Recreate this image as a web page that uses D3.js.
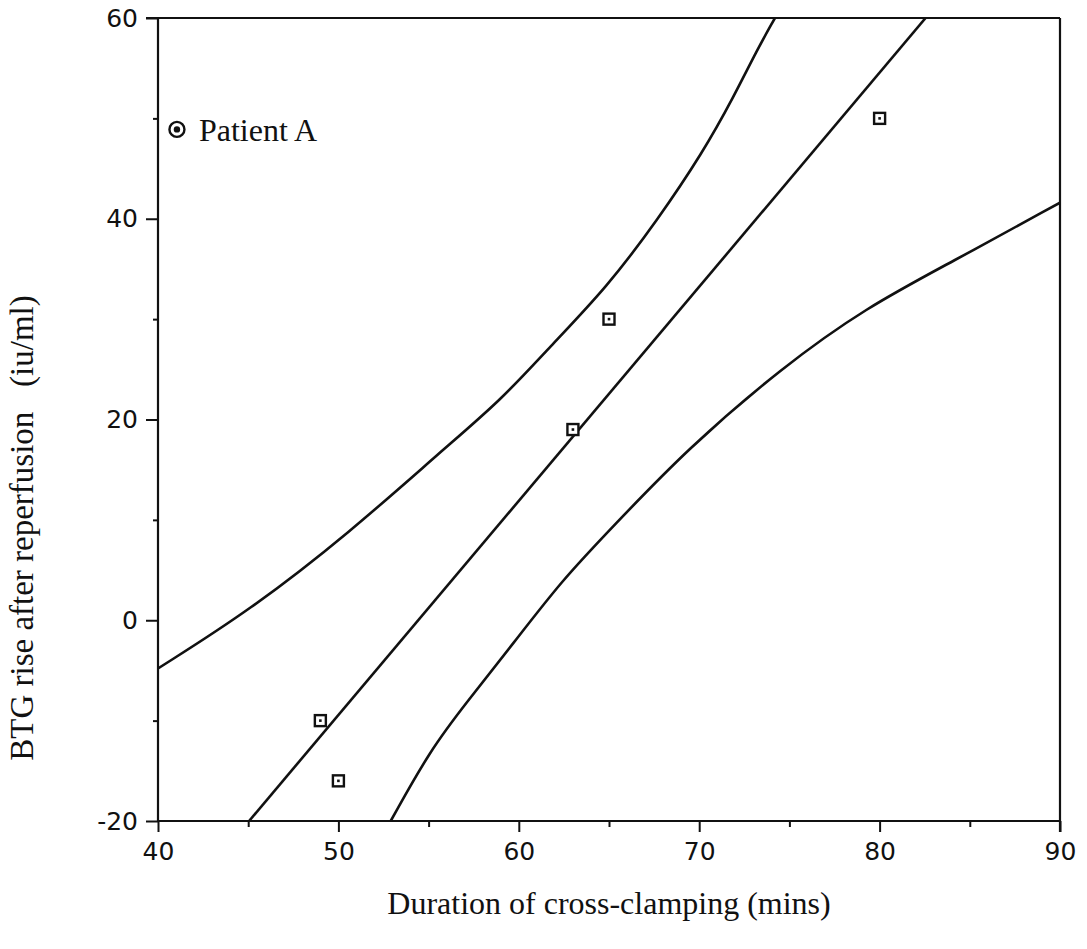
<!DOCTYPE html>
<html lang="en">
<head>
<meta charset="UTF-8">
<script src="https://cdn.jsdelivr.net/npm/d3@7"></script>
<title>BTG rise vs cross-clamping</title>
<style>
    body { margin: 0; background: #fff; }
    .tick-label { font-family: "DejaVu Sans", Verdana, sans-serif; font-size: 25px; fill: #111; }
    .title { font-family: "Liberation Serif", "Times New Roman", serif; font-size: 32px; fill: #111; }
</style>
</head>
<body>
<div id="chart"></div>
<script>
    // observed patients: cross-clamp duration (mins) vs BTG rise (iu/ml)
    const duration = [49, 50, 63, 65, 80];
    const btgRise = [-10, -16, 19, 30, 50];

    // legend marker "Patient A"
    const patientA = { x: 41.05, y: 48.9, label: "Patient A" };

    // fitted regression line (end points)
    const fitX = [45.05, 82.55];
    const fitY = [-20, 60];

    // upper and lower confidence bands
    const upperX = [40, 45.1, 50.6, 55.8, 59.0, 61.7, 64.9, 67.7, 70.2, 71.9, 73.2, 74.2];
    const upperY = [-4.8, 1.0, 8.7, 17.0, 21.9, 27.2, 33.2, 39.9, 46.6, 52.1, 56.8, 60];
    const lowerX = [52.9, 55.1, 57.1, 59.7, 62.4, 65.2, 69.3, 74.6, 79.3, 83.9, 90];
    const lowerY = [-20, -12.9, -8.2, -2.3, 4.0, 9.3, 17.0, 25.2, 31.2, 35.6, 41.6];

    const xTicks = [40, 50, 60, 70, 80, 90];
    const xMinor = [45, 55, 65, 75, 85];
    const yTicks = [-20, 0, 20, 40, 60];
    const yMinor = [-10, 10, 30, 50];

    const width = 1087, height = 949;
    const margin = { left: 158, right: 27, top: 18, bottom: 128 };

    const svg = d3.select("#chart").append("svg")
        .attr("width", width)
        .attr("height", height);

    const x = d3.scaleLinear().domain([40, 90]).range([margin.left, width - margin.right]);
    const y = d3.scaleLinear().domain([-20, 60]).range([height - margin.bottom, margin.top]);

    svg.append("clipPath").attr("id", "plot")
        .append("rect")
        .attr("x", x(40)).attr("y", y(60))
        .attr("width", x(90) - x(40)).attr("height", y(-20) - y(60));

    const fmt = d => String(d);

    // axes: major ticks long, minor ticks short
    const xAxis = svg.append("g").attr("transform", `translate(0,${y(-20)})`);
    xAxis.call(d3.axisBottom(x).tickValues(xMinor).tickSize(6).tickFormat(""));
    xAxis.call(g => g.append("g").call(d3.axisBottom(x).tickValues(xTicks).tickSize(11).tickPadding(10).tickFormat(fmt)));
    const yAxis = svg.append("g").attr("transform", `translate(${x(40)},0)`);
    yAxis.call(d3.axisLeft(y).tickValues(yMinor).tickSize(5).tickFormat(""));
    yAxis.call(g => g.append("g").call(d3.axisLeft(y).tickValues(yTicks).tickSize(12).tickPadding(8).tickFormat(fmt)));

    svg.selectAll(".domain").remove();
    svg.selectAll(".tick line").attr("stroke", "#111").attr("stroke-width", 2);
    svg.selectAll(".tick text").attr("class", "tick-label").attr("font-family", null).attr("font-size", null);

    // frame: left, bottom, top, right
    const frame = svg.append("g").attr("stroke", "#111").attr("stroke-width", 2.2).attr("fill", "none");
    frame.append("line").attr("x1", x(40)).attr("x2", x(40)).attr("y1", y(60)).attr("y2", y(-20));
    frame.append("line").attr("x1", x(40)).attr("x2", x(90)).attr("y1", y(-20)).attr("y2", y(-20));
    frame.append("line").attr("x1", x(40) - 12).attr("x2", x(90)).attr("y1", y(60)).attr("y2", y(60));
    frame.append("line").attr("x1", x(90)).attr("x2", x(90)).attr("y1", y(60)).attr("y2", y(-20) + 11);

    const plot = svg.append("g").attr("clip-path", "url(#plot)");

    const line = d3.line().x(d => x(d[0])).y(d => y(d[1])).curve(d3.curveBasis);

    [d3.zip(fitX, fitY), d3.zip(upperX, upperY), d3.zip(lowerX, lowerY)].forEach(series => {
        plot.append("path")
            .datum(series)
            .attr("d", line)
            .attr("fill", "none").attr("stroke", "#111").attr("stroke-width", 2.6);
    });

    // square markers with a centre dot
    const pts = svg.append("g").selectAll("g")
        .data(d3.zip(duration, btgRise))
        .enter().append("g")
        .attr("transform", d => `translate(${x(d[0])},${y(d[1])})`);
    pts.append("rect")
        .attr("x", -5.5).attr("y", -5.5).attr("width", 11).attr("height", 11)
        .attr("fill", "#fff").attr("stroke", "#111").attr("stroke-width", 2.4);
    pts.append("rect")
        .attr("x", -1.3).attr("y", -1.3).attr("width", 2.6).attr("height", 2.6)
        .attr("fill", "#111");

    // Patient A legend marker
    const pa = svg.append("g").attr("transform", `translate(${x(patientA.x)},${y(patientA.y)})`);
    pa.append("circle").attr("r", 7.5).attr("fill", "#fff").attr("stroke", "#111").attr("stroke-width", 2.4);
    pa.append("circle").attr("r", 3.2).attr("fill", "#111");
    svg.append("text").attr("class", "title")
        .attr("x", x(patientA.x) + 22).attr("y", y(patientA.y))
        .attr("dy", "0.35em")
        .text(patientA.label);

    // axis titles
    svg.append("text").attr("class", "title")
        .attr("x", (x(40) + x(90)) / 2).attr("y", 914)
        .attr("text-anchor", "middle")
        .text("Duration of cross-clamping (mins)");
    svg.append("text").attr("class", "title")
        .attr("transform", `translate(33,528) rotate(-90)`)
        .attr("text-anchor", "middle")
        .style("font-size", "33px")
        .style("white-space", "pre")
        .text("BTG rise after reperfusion   (iu/ml)");
</script>
</body>
</html>
